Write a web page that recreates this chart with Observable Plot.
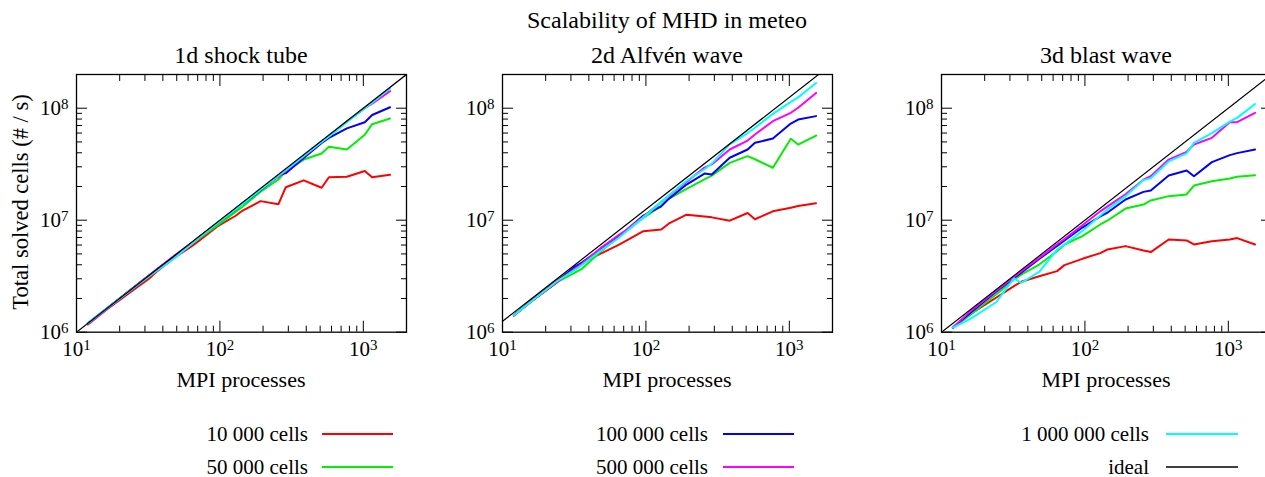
<!DOCTYPE html>
<html><head><meta charset="utf-8">
<script src="https://cdn.jsdelivr.net/npm/d3@7"></script>
<script src="https://cdn.jsdelivr.net/npm/@observablehq/plot@0.6"></script>
<style>
html,body{margin:0;padding:0;background:#fff;overflow:hidden}
#root{position:relative;width:1265px;height:477px;overflow:hidden;font-family:"Liberation Serif","DejaVu Serif",serif;color:#000}
#root > div.panel{position:absolute}
#root svg{max-width:none !important}
#root svg text{font-family:"Liberation Serif","DejaVu Serif",serif !important}
#overlay{position:absolute;left:0;top:0}
</style></head><body><div id="root"></div>
<script>
// ---------- data ----------
const procs = [12,16,24,32,36,48,64,72,96,128,144,192,256,288,384,512,576,768,1024,1152,1536];
const series = ["10 000 cells","50 000 cells","100 000 cells","500 000 cells","1 000 000 cells"];
const colors = ["#ff0000","#00f000","#0000ff","#ff00ff","#00ffff"];
const panelTitles = ["1d shock tube","2d Alfvén wave","3d blast wave"];

// 1d shock tube
const shock10k  = [1.17e6,1.57e6,2.3e6,3.0e6,3.45e6,4.6e6,5.9e6,6.6e6,8.8e6,1.09e7,1.22e7,1.48e7,1.39e7,1.97e7,2.27e7,1.95e7,2.42e7,2.44e7,2.75e7,2.42e7,2.54e7];
const shock50k  = [1.2e6,1.6e6,2.4e6,3.2e6,3.55e6,4.7e6,6.2e6,6.9e6,9.0e6,1.18e7,1.32e7,1.8e7,2.31e7,2.74e7,3.48e7,3.94e7,4.52e7,4.28e7,5.8e7,7.2e7,8.1e7];
const shock100k = [1.2e6,1.6e6,2.4e6,3.2e6,3.6e6,4.75e6,6.3e6,7.1e6,9.4e6,1.24e7,1.4e7,1.85e7,2.5e7,2.63e7,3.6e7,4.9e7,5.44e7,6.6e7,7.5e7,8.7e7,1.02e8];
const shock500k = [1.18e6,1.58e6,2.4e6,3.2e6,3.6e6,4.8e6,6.3e6,7.1e6,9.5e6,1.26e7,1.42e7,1.88e7,2.45e7,2.75e7,3.7e7,5.0e7,5.6e7,7.6e7,1.0e8,1.1e8,1.42e8];
const shock1M   = [1.2e6,1.6e6,2.38e6,3.15e6,3.5e6,4.55e6,6.2e6,7.0e6,9.4e6,1.25e7,1.4e7,1.87e7,2.5e7,2.8e7,3.75e7,5.0e7,5.6e7,7.5e7,1.0e8,1.12e8,1.5e8];

// 2d Alfvén wave
const alfven10k  = [1.42e6,1.95e6,2.9e6,3.75e6,4.15e6,5.0e6,6.0e6,6.5e6,7.98e6,8.26e6,9.3e6,1.12e7,1.08e7,1.06e7,9.9e6,1.16e7,1.02e7,1.2e7,1.29e7,1.34e7,1.42e7];
const alfven50k  = [1.42e6,1.9e6,2.8e6,3.4e6,3.7e6,5.2e6,7.0e6,7.9e6,1.05e7,1.35e7,1.55e7,1.9e7,2.31e7,2.5e7,3.25e7,3.73e7,3.5e7,2.94e7,5.33e7,4.74e7,5.7e7];
const alfven100k = [1.42e6,1.9e6,2.8e6,3.85e6,4.2e6,5.5e6,7.2e6,8.0e6,1.1e7,1.33e7,1.55e7,2.08e7,2.61e7,2.56e7,3.61e7,4.28e7,4.91e7,5.36e7,7.3e7,7.92e7,8.5e7];
const alfven500k = [1.4e6,1.9e6,2.8e6,3.7e6,4.1e6,5.6e6,7.3e6,8.1e6,1.08e7,1.45e7,1.65e7,2.2e7,2.95e7,3.15e7,4.28e7,5.14e7,5.82e7,7.66e7,9.1e7,1.01e8,1.37e8];
const alfven1M   = [1.42e6,1.9e6,2.85e6,3.6e6,4.0e6,5.3e6,6.9e6,7.8e6,1.06e7,1.45e7,1.65e7,2.25e7,2.85e7,3.2e7,4.75e7,6.0e7,6.7e7,8.9e7,1.14e8,1.25e8,1.68e8];

// 3d blast wave
const blast10k  = [1.09e6,1.46e6,2.03e6,2.58e6,2.82e6,3.16e6,3.51e6,3.97e6,4.52e6,5.08e6,5.48e6,5.87e6,5.36e6,5.19e6,6.73e6,6.6e6,6.07e6,6.5e6,6.73e6,6.92e6,6.07e6];
const blast50k  = [1.09e6,1.44e6,2.17e6,2.95e6,3.27e6,4.02e6,5.29e6,6.07e6,7.2e6,9.16e6,9.94e6,1.27e7,1.38e7,1.5e7,1.64e7,1.7e7,2.04e7,2.23e7,2.36e7,2.44e7,2.52e7];
const blast100k = [1.1e6,1.5e6,2.3e6,3.05e6,3.4e6,4.5e6,5.9e6,6.6e6,8.6e6,1.08e7,1.17e7,1.53e7,1.79e7,1.84e7,2.51e7,2.78e7,2.47e7,3.3e7,3.81e7,3.97e7,4.28e7];
const blast500k = [1.1e6,1.55e6,2.35e6,3.1e6,3.5e6,4.6e6,6.1e6,6.8e6,9.0e6,1.2e7,1.33e7,1.7e7,2.3e7,2.47e7,3.48e7,4.08e7,4.74e7,5.44e7,7.5e7,7.5e7,9.08e7];
const blast1M   = [1.1e6,1.32e6,1.85e6,3.02e6,2.76e6,3.46e6,5.47e6,6.07e6,8.0e6,1.1e7,1.25e7,1.64e7,2.28e7,2.37e7,3.35e7,3.95e7,4.91e7,6.0e7,7.6e7,8.2e7,1.09e8];

// ideal scaling lines (endpoints)
const idealX = [10, 2000];
const shockIdeal  = [1e6, 2e8];
const alfvenIdeal = [1.25e6, 2.5e8];
const blastIdeal  = [1e6, 2e8];

// axis ticks
const xMajor = [10, 100, 1000];
const xMinor = [20,30,40,50,60,70,80,90,200,300,400,500,600,700,800,900];
const yMajor = [1e6, 1e7, 1e8];
const yMinor = [2e6,3e6,4e6,5e6,6e6,7e6,8e6,9e6,2e7,3e7,4e7,5e7,6e7,7e7,8e7,9e7];

// ---------- layout ----------
const FONT = '"Liberation Serif","DejaVu Serif",serif';
const frameLefts = [76, 502, 941];
const frameTop = 74, frameW = 330, frameH = 257.7;
const mL = 70, mR = 10, mT = 10, mB = 40;

function panel(seriesVals, ideal) {
  const rows = [];
  seriesVals.forEach((vals, i) => vals.forEach((v, j) => rows.push({p: procs[j], v, s: series[i]})));
  const idealRows = idealX.map((x, i) => ({p: x, v: ideal[i]}));
  const fmt = d => "10^" + Math.round(Math.log10(d));
  const svg = Plot.plot({
    width: frameW + mL + mR, height: frameH + mT + mB,
    marginLeft: mL, marginRight: mR, marginTop: mT, marginBottom: mB,
    x: {type: "log", domain: [10, 2000], axis: null},
    y: {type: "log", domain: [1e6, 2e8], axis: null},
    color: {domain: series, range: colors},
    style: {fontFamily: FONT, fontSize: "21px", background: "transparent", color: "black", overflow: "visible", maxWidth: "none"},
    marks: [
      Plot.line(rows, {x: "p", y: "v", z: "s", stroke: "s", strokeWidth: 2, clip: true}),
      Plot.line(idealRows, {x: "p", y: "v", stroke: "black", strokeWidth: 1.2, clip: true}),
      Plot.frame({stroke: "black", strokeWidth: 1.3}),
      // inward ticks on all four sides
      Plot.axisX(xMajor, {anchor: "bottom", tickSize: -11, fill: null, label: null}),
      Plot.axisX(xMinor, {anchor: "bottom", tickSize: -6, fill: null, label: null}),
      Plot.axisX(xMajor, {anchor: "top", tickSize: -11, fill: null, label: null}),
      Plot.axisX(xMinor, {anchor: "top", tickSize: -6, fill: null, label: null}),
      Plot.axisY(yMajor, {anchor: "left", tickSize: -11, fill: null, label: null}),
      Plot.axisY(yMinor, {anchor: "left", tickSize: -6, fill: null, label: null}),
      Plot.axisY(yMajor, {anchor: "right", tickSize: -11, fill: null, label: null}),
      Plot.axisY(yMinor, {anchor: "right", tickSize: -6, fill: null, label: null}),
      // tick labels
      Plot.axisX(xMajor, {anchor: "bottom", tickSize: 0, tickPadding: 9, tickFormat: fmt, label: null, fontSize: 21}),
      Plot.axisY(yMajor, {anchor: "left", tickSize: 0, tickPadding: 8, tickFormat: fmt, label: null, fontSize: 21})
    ]
  });
  svg.style.maxWidth = "none";
  // render exponents as superscripts
  svg.querySelectorAll("text").forEach(t => {
    const m = /^10\^(\d+)$/.exec(t.textContent);
    if (!m) return;
    t.textContent = "10";
    const ts = document.createElementNS("http://www.w3.org/2000/svg", "tspan");
    ts.setAttribute("dy", "-0.42em");
    ts.setAttribute("font-size", "15");
    ts.textContent = m[1];
    t.appendChild(ts);
  });
  return svg;
}

const root = document.getElementById("root");
const panelsData = [
  [[shock10k, shock50k, shock100k, shock500k, shock1M], shockIdeal],
  [[alfven10k, alfven50k, alfven100k, alfven500k, alfven1M], alfvenIdeal],
  [[blast10k, blast50k, blast100k, blast500k, blast1M], blastIdeal]
];
panelsData.forEach(([vals, ideal], i) => {
  const div = document.createElement("div");
  div.className = "panel";
  div.style.left = (frameLefts[i] - mL) + "px";
  div.style.top = (frameTop - mT) + "px";
  div.style.width = (frameW + mL + mR) + "px";
  div.appendChild(panel(vals, ideal));
  root.appendChild(div);
});

// ---------- overlay: titles, axis labels, legend ----------
const NS = "http://www.w3.org/2000/svg";
const ov = document.createElementNS(NS, "svg");
ov.setAttribute("id", "overlay");
ov.setAttribute("width", 1265);
ov.setAttribute("height", 477);
root.appendChild(ov);
function txt(s, x, y, size, anchor, rot) {
  const t = document.createElementNS(NS, "text");
  t.setAttribute("x", x); t.setAttribute("y", y);
  t.setAttribute("font-size", size);
  t.setAttribute("font-family", FONT);
  t.setAttribute("text-anchor", anchor || "middle");
  t.setAttribute("fill", "black");
  if (rot) t.setAttribute("transform", `rotate(${rot},${x},${y})`);
  t.textContent = s;
  ov.appendChild(t);
}
txt("Scalability of MHD in meteo", frameLefts[1] + frameW / 2, 28, 24);
panelTitles.forEach((s, i) => {
  txt(s, frameLefts[i] + frameW / 2, 63, 24);
  txt("MPI processes", frameLefts[i] + frameW / 2, 387, 22);
});
txt("Total solved cells (# / s)", 28, 202, 22.5, "middle", -90);

// legend
const legendCols = [[308, 322, 393], [708, 723, 794], [1149, 1166, 1238]];
const legendRows = [434, 467];
const legendItems = [
  [series[0], colors[0]], [series[2], colors[2]], [series[4], colors[4]],
  [series[1], colors[1]], [series[3], colors[3]], ["ideal", "black"]
];
legendItems.forEach(([label, c], k) => {
  const col = legendCols[k % 3], row = legendRows[Math.floor(k / 3)];
  txt(label, col[0], row + 6.5, 21, "end");
  const l = document.createElementNS(NS, "line");
  l.setAttribute("x1", col[1]); l.setAttribute("x2", col[2]);
  l.setAttribute("y1", row); l.setAttribute("y2", row);
  l.setAttribute("stroke", c);
  l.setAttribute("stroke-width", c === "black" ? 1.3 : 2);
  ov.appendChild(l);
});
</script>
</body></html>
